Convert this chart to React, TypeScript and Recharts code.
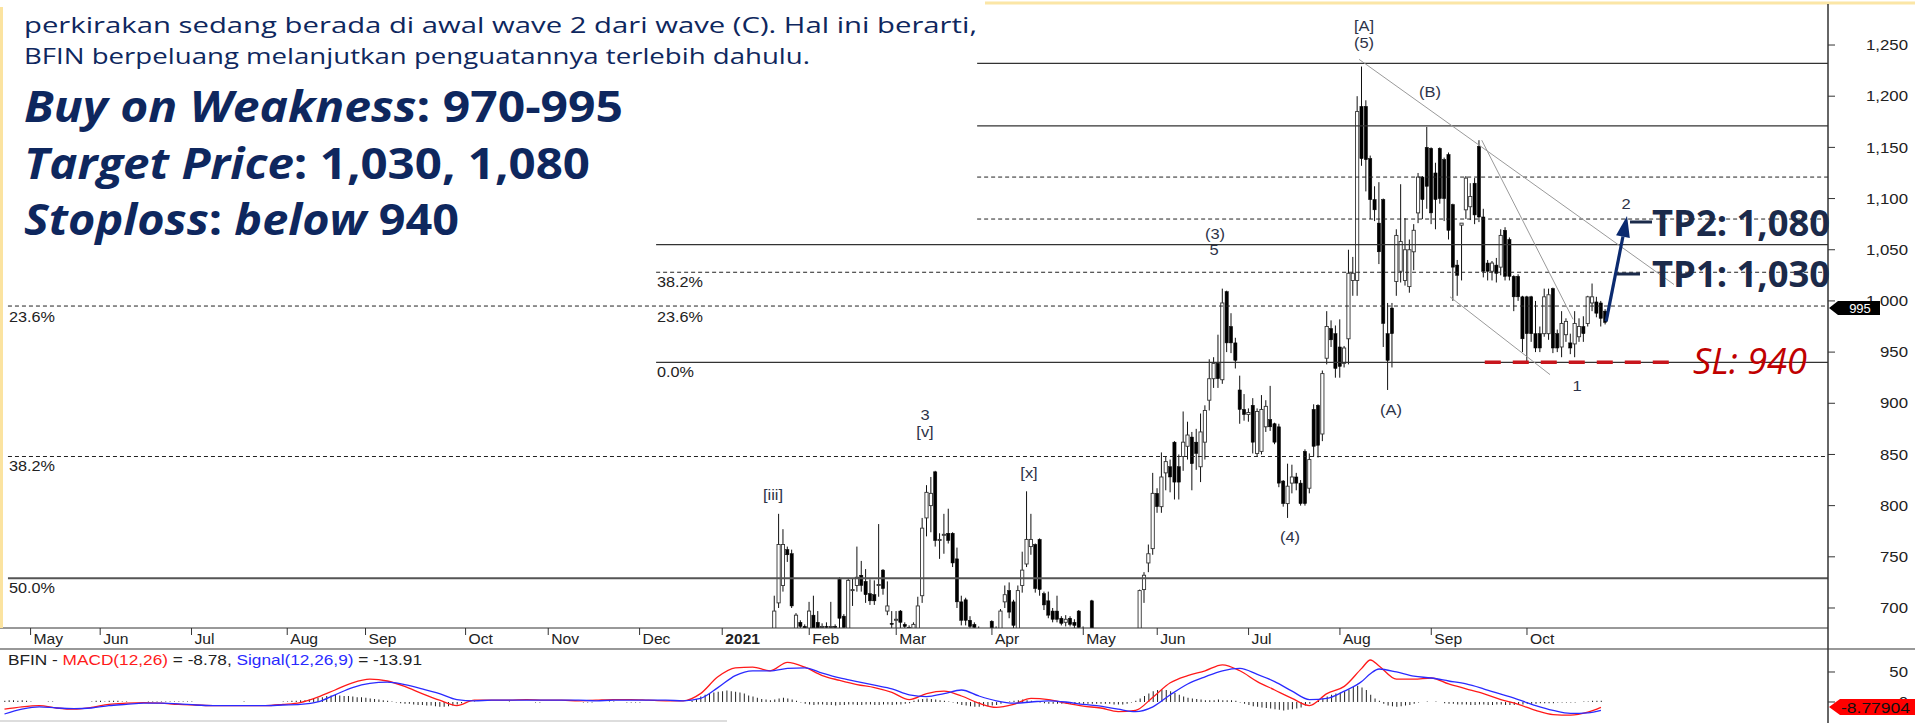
import React from 'react';
import { ComposedChart, Bar, Line, XAxis, YAxis, ReferenceLine } from 'recharts';

// x axis is a trading-day index (0 = first day of May 2020)
const X_MIN = -7.03;
const X_MAX = 413.2;
const P_MIN = 680.46;
const P_MAX = 1289.1;

const monthTicks = [0, 16, 37, 59, 77, 100, 119, 140, 159, 179, 199, 221, 242, 259, 280, 301, 322, 344];
const monthLabels = ['May', 'Jun', 'Jul', 'Aug', 'Sep', 'Oct', 'Nov', 'Dec', '2021', 'Feb', 'Mar', 'Apr', 'May', 'Jun', 'Jul', 'Aug', 'Sep', 'Oct'];
const priceTicks = [700, 750, 800, 850, 900, 950, 1000, 1050, 1100, 1150, 1200, 1250];

// daily candles from index 168 (late Jan 2021) to 362 (late Oct 2021)
const CANDLE_START = 168;
const opens = [
  670, 668, 670, 672, 705, 722, 757, 753, 676, 686, 682, 676, 693, 686, 681, 682, 681, 682, 728, 692,
  679, 717, 722, 732, 726, 714, 713, 722, 737, 697, 685, 688, 697, 684, 681, 676, 680, 712, 788, 800,
  833, 766, 771, 773, 773, 748, 706, 708, 688, 684, 680, 676, 672, 687, 680, 676, 706, 717, 706, 680,
  722, 743, 760, 762, 767, 714, 707, 697, 697, 690, 686, 690, 686, 697, 680, 676, 707, 678, 668, 664,
  667, 670, 666, 668, 672, 670, 674, 676, 718, 744, 758, 812, 799, 832, 838, 862, 838, 848, 858, 867,
  862, 838, 862, 903, 924, 939, 923, 1009, 975, 959, 913, 894, 889, 898, 851, 853, 877, 884, 880, 877,
  824, 802, 822, 828, 822, 853, 817, 894, 898, 870, 944, 973, 968, 955, 939, 963, 1020, 1020, 1190, 1190,
  1139, 1099, 1076, 1099, 968, 993, 1019, 1029, 1020, 1014, 1048, 1086, 1121, 1150, 1149, 1125, 1149, 1138, 1143, 1094,
  1035, 1074, 1089, 1092, 1115, 1151, 1082, 1037, 1029, 1035, 1033, 1069, 1060, 1024, 1024, 1004, 1004, 1004, 968, 968,
  968, 968, 1012, 968, 955, 967, 959, 958, 965, 975, 978, 998, 999, 998, 990,
];
const highs = [
  675, 672, 676, 712, 792, 777, 760, 757, 695, 688, 684, 706, 712, 697, 685, 686, 706, 684, 730, 694,
  729, 729, 760, 746, 738, 728, 727, 782, 738, 726, 697, 697, 698, 686, 683, 686, 711, 788, 820, 828,
  834, 773, 792, 797, 774, 759, 712, 710, 692, 686, 682, 679, 676, 688, 682, 699, 722, 725, 708, 722,
  755, 814, 792, 763, 768, 716, 716, 700, 712, 692, 693, 692, 689, 698, 682, 679, 708, 679, 672, 670,
  674, 675, 672, 676, 678, 678, 679, 718, 735, 762, 832, 817, 852, 848, 845, 863, 850, 892, 882, 872,
  875, 890, 898, 943, 945, 967, 1012, 1010, 988, 964, 927, 909, 895, 905, 895, 908, 903, 917, 881, 880,
  825, 841, 840, 832, 825, 855, 851, 899, 899, 932, 990, 981, 976, 982, 956, 1050, 1043, 1200, 1229, 1196,
  1142, 1112, 1116, 1100, 998, 998, 1070, 1114, 1081, 1060, 1075, 1125, 1122, 1170, 1150, 1135, 1150, 1140, 1145, 1095,
  1040, 1076, 1122, 1115, 1120, 1157, 1090, 1040, 1039, 1042, 1070, 1072, 1062, 1025, 1026, 1005, 1005, 1005, 1000, 975,
  1012, 1012, 1013, 972, 990, 983, 968, 990, 983, 985, 1005, 1017, 1004, 1000, 992,
];
const lows = [
  665, 662, 665, 668, 700, 716, 745, 700, 672, 675, 670, 674, 675, 676, 676, 678, 678, 677, 679, 677,
  678, 702, 716, 716, 705, 703, 703, 711, 713, 693, 679, 678, 679, 676, 672, 674, 678, 705, 770, 774,
  760, 748, 753, 763, 740, 700, 683, 683, 680, 677, 672, 668, 666, 676, 672, 674, 700, 690, 680, 678,
  715, 740, 752, 715, 712, 698, 690, 686, 686, 683, 682, 682, 680, 678, 672, 668, 676, 665, 660, 658,
  662, 664, 660, 664, 666, 668, 670, 674, 705, 735, 752, 793, 793, 815, 813, 806, 806, 834, 845, 815,
  835, 823, 845, 893, 915, 915, 919, 950, 949, 934, 880, 883, 882, 851, 848, 850, 872, 873, 860, 818,
  799, 788, 812, 815, 800, 800, 812, 848, 847, 863, 938, 955, 925, 925, 935, 938, 1005, 1005, 1132, 1107,
  1080, 1078, 1036, 955, 913, 935, 1005, 1018, 1015, 1008, 1030, 1076, 1080, 1090, 1075, 1070, 1095, 1078, 1060, 1000,
  1005, 1020, 1080, 1079, 1075, 1077, 1023, 1020, 1020, 1018, 1025, 1020, 1020, 990, 1000, 950, 941, 960, 950, 950,
  965, 962, 949, 950, 945, 960, 948, 945, 960, 960, 975, 990, 984, 975, 977,
];
const closes = [
  668, 670, 672, 697, 762, 762, 752, 702, 693, 682, 676, 697, 678, 680, 682, 681, 682, 681, 690, 681,
  727, 718, 730, 722, 713, 707, 707, 723, 719, 702, 684, 689, 686, 682, 677, 684, 702, 778, 813, 812,
  766, 767, 772, 766, 744, 706, 688, 688, 682, 681, 676, 672, 670, 680, 676, 697, 713, 696, 683, 717,
  737, 767, 767, 719, 718, 703, 693, 689, 689, 685, 689, 684, 683, 681, 675, 671, 680, 668, 664, 667,
  670, 666, 668, 672, 670, 676, 676, 717, 732, 753, 812, 799, 828, 843, 828, 823, 823, 862, 869, 841,
  851, 872, 893, 924, 939, 924, 998, 959, 959, 942, 894, 889, 891, 862, 892, 894, 897, 877, 862, 822,
  802, 819, 828, 822, 802, 802, 845, 858, 859, 929, 975, 962, 934, 936, 954, 1027, 1027, 1185, 1139, 1138,
  1099, 1089, 1048, 978, 942, 968, 1064, 1058, 1050, 1050, 1069, 1121, 1099, 1112, 1086, 1099, 1100, 1100, 1069, 1033,
  1025, 1076, 1120, 1102, 1084, 1082, 1029, 1029, 1037, 1027, 1064, 1024, 1024, 1004, 1004, 963, 968, 968, 954, 954,
  1004, 1006, 954, 954, 978, 980, 954, 978, 975, 968, 1004, 1004, 988, 983, 979,
];

// MACD(12,26) and signal, read every few trading days
const macdIdx = [
  -6, -2, 2, 6, 10, 14, 18, 22, 26, 30, 34, 38, 42, 46, 50, 54, 58, 62, 66, 70,
  74, 78, 82, 86, 90, 94, 98, 102, 106, 110, 114, 118, 122, 126, 130, 134, 138, 142, 146, 150,
  154, 158, 162, 166, 170, 174, 178, 182, 186, 190, 194, 198, 202, 206, 210, 214, 218, 222, 226, 230,
  234, 238, 242, 246, 250, 254, 258, 262, 266, 270, 274, 278, 282, 286, 290, 294, 298, 302, 306, 308,
  310, 314, 318, 322, 326, 330, 334, 338, 342, 346, 350, 354, 358, 361,
];
const macdVals = [
  -12, -8, -6, -10, -12, -9, -4, -2, -1, -2, -4, -5, -6, -6, -6, -6, -4, -1, 8, 20,
  32, 38, 35, 26, 14, 3, -6, 3, 3, 3, 4, 3, 3, 2, 3, 4, 4, 3, 2, 2,
  14, 42, 57, 58, 52, 66, 58, 44, 36, 29, 24, 16, 4, 14, 18, 10, -2, -9, -4, 6,
  4, -2, -7, -10, -16, -14, 8, 32, 44, 52, 62, 52, 34, 20, 6, -6, 14, 26, 56, 70,
  60, 38, 38, 40, 30, 22, 14, 4, -4, -14, -21, -22, -17, -9,
];
const signalVals = [
  -20, -12, -8, -10, -11, -10, -6, -4, -2, -2, -3, -5, -6, -6, -6, -6, -5, -4, 0, 12,
  24, 31, 33, 29, 22, 14, 4, 2, 3, 3, 3, 3, 3, 3, 2, 3, 3, 3, 3, 2,
  6, 24, 44, 52, 52, 56, 57, 48, 40, 34, 28, 22, 12, 9, 14, 20, 10, 2, -2, 0,
  2, 0, -4, -7, -12, -16, -8, 12, 30, 42, 52, 56, 46, 34, 18, 4, 6, 18, 34, 47,
  55, 50, 43, 40, 35, 30, 22, 13, 4, -6, -14, -19, -18, -14,
];

// daily histogram from index -6 to 361
const HIST_START = -6;
const histVals = [
  2, 3, 3, 2, 3, 2,
  1, 0, 0, 0, 1, 1, 0, 0, 0, 0,
  0, 0, 0, 0, 1, 2, 2, 1, 2, 2,
  2, 1, 1, 0, 0, 0, 0, 1, 1, 1,
  1, 1, 1, 1, 1, 1, 1, 1, 0, 0,
  0, 0, 0, 0, 0, 0, 0, 0, 0, 1,
  0, 0, 0, 0, 0, 0, 0, 0, 1, 1,
  2, 2, 3, 3, 4, 6, 7, 8, 10, 11,
  12, 11, 10, 10, 9, 8, 8, 7, 6, 5,
  4, 3, 2, 1, -1, -2, -3, -3, -4, -5,
  -5, -6, -6, -7, -8, -8, -7, -6, -4, -2,
  0, 0, 1, 0, 0, 0, 0, 0, 0, 0,
  1, 0, 0, 0, 0, 0, -1, -1, 0, 0,
  0, 0, 0, 0, 0, 0, 0, -1, -1, -1,
  0, 0, 0, 1, 1, 0, 0, -1, -1, -1,
  -1, 0, 0, 0, 0, 0, 0, 0, 0, 0,
  0, 0, 2, 5, 9, 12, 14, 16, 17, 18,
  19, 18, 17, 16, 14, 11, 9, 7, 5, 4,
  3, 4, 6, 7, 6, 4, 2, -1, -3, -4,
  -5, -4, -4, -5, -5, -6, -5, -5, -4, -4,
  -5, -5, -4, -4, -5, -5, -4, -4, -5, -4,
  -4, -3, -2, 2, 4, 5, 6, 5, 4, 3,
  2, 1, -1, -3, -5, -6, -7, -8, -8, -7,
  -7, -6, -5, -3, -1, 1, 2, 3, 4, 3,
  2, 1, -1, -2, -3, -3, -3, -3, -3, -3,
  -3, -3, -3, -3, -3, -3, -3, -3, -3, -4,
  -4, -4, -3, -1, 2, 6, 10, 14, 18, 20,
  21, 20, 18, 15, 12, 9, 7, 6, 5, 4,
  3, 3, 3, 4, 3, 3, 3, 2, -1, -3,
  -5, -7, -8, -9, -10, -11, -12, -13, -14, -13,
  -12, -11, -9, -6, -3, 0, 3, 6, 9, 12,
  14, 16, 18, 21, 25, 27, 24, 20, 12, 6,
  2, -3, -6, -7, -8, -7, -6, -5, -3, -1,
  0, 1, 0, 1, 0, -2, -3, -3, -4, -4,
  -4, -5, -5, -4, -4, -5, -5, -4, -4, -5,
  -5, -5, -4, -4, -3, -3, -3, -2, -2, -2,
  -2, -1, -1, -1, -1, -1, 0, 1, 1, 2,
  2, 2,
];

// fibonacci levels and where each one starts (index)
const solidLevels = [1232, 1171, 1055, 940, 729];
const solidFrom = [217.6, 217.6, 143.8, 143.8, -5.2];
const dashedLevels = [1121, 1080, 1028, 995, 848];
const dashedFrom = [217.6, 217.6, 143.8, -5.2, -5.2];

// trend lines [x1, p1, x2, p2]
const trendLines = [
  [305.4, 1236, 377.8, 1016],
  [333.6, 1157, 354.6, 982],
  [326.3, 1004, 349.3, 928],
];
const slLevel = 940;
const slFrom = 334.3;
const slTo = 376.9;
const arrowFrom = [362.2, 980];
const arrowTo = [367, 1083];

const candleData = opens.map((o, k) => ({
  i: CANDLE_START + k,
  o,
  h: highs[k],
  l: lows[k],
  c: closes[k],
  range: [lows[k], highs[k]],
}));

const macdData = histVals.map((h, k) => {
  const i = HIST_START + k;
  const m = macdIdx.indexOf(i);
  return { i, hist: h, macd: m >= 0 ? macdVals[m] : null, signal: m >= 0 ? signalVals[m] : null };
});

const AX_FONT = "'Liberation Sans', Arial, sans-serif";
const TXT_FONT = "'Open Sans', 'Noto Sans', sans-serif";
const NAVY = '#0e275e';

const Candle = (props: any) => {
  const { x, y, width, height, index } = props;
  const d = props.payload && props.payload.o !== undefined ? props.payload : candleData[index];
  if (!d || x == null || y == null) return null;
  const top = Math.min(y, y + height);
  const k = Math.abs(height) / (d.h - d.l || 1);
  const py = (v: number) => top + (d.h - v) * k;
  const cx = x + width / 2;
  const up = d.c >= d.o;
  const b1 = py(Math.max(d.o, d.c));
  const b2 = py(Math.min(d.o, d.c));
  return (
    <g>
      <line x1={cx} x2={cx} y1={py(d.h)} y2={py(d.l)} stroke="#111" strokeWidth={1} />
      <rect
        x={cx - 1.6}
        y={b1}
        width={3.2}
        height={Math.max(b2 - b1, 1)}
        fill={up ? '#fff' : '#000'}
        stroke={up ? '#333' : '#000'}
        strokeWidth={up ? 0.9 : 0.5}
      />
    </g>
  );
};

const Arrow = (props: any) => {
  const { x1, y1, x2, y2 } = props;
  if (x1 == null) return null;
  const a = Math.atan2(y2 - y1, x2 - x1);
  const bx = x2 - 21 * Math.cos(a);
  const by = y2 - 21 * Math.sin(a);
  const nx = -Math.sin(a) * 7;
  const ny = Math.cos(a) * 7;
  return (
    <g>
      <line x1={x1} y1={y1} x2={bx} y2={by} stroke="#0b2a6f" strokeWidth={3.2} />
      <polygon points={`${x2},${y2} ${bx + nx},${by + ny} ${bx - nx},${by - ny}`} fill="#0b2a6f" />
    </g>
  );
};

const MonthTick = (props: any) => {
  const { x, payload } = props;
  const label = monthLabels[monthTicks.indexOf(payload.value)];
  return (
    <g>
      <line x1={x} x2={x} y1={628} y2={635} stroke="#333" />
      <text
        transform={`translate(${x + 3},${639}) scale(1.08,1)`}
        dominantBaseline="central"
        fontSize={14.5}
        fontFamily={AX_FONT}
        fontWeight={label === '2021' ? 700 : 400}
        fill="#222"
      >
        {label}
      </text>
    </g>
  );
};

const RightTick = (props: any) => {
  const { y, payload } = props;
  return (
    <text
      transform={`translate(1908,${y}) scale(1.12,1)`}
      textAnchor="end"
      dominantBaseline="central"
      fontSize={15}
      fontFamily={AX_FONT}
      fill="#222"
    >
      {payload.value.toLocaleString('en-US')}
    </text>
  );
};

const fibLabels: [string, number, number][] = [
  ['23.6%', 9, 317], ['38.2%', 9, 466], ['50.0%', 9, 588],
  ['38.2%', 657, 282], ['23.6%', 657, 317], ['0.0%', 657, 372],
];
const waveLabels: [string, number, number][] = [
  ['[A]', 1364, 26], ['(5)', 1364, 43], ['(B)', 1430, 92], ['(3)', 1215, 234], ['5', 1214, 250],
  ['2', 1626, 204], ['1', 1577, 386], ['(A)', 1391, 410], ['(4)', 1290, 537],
  ['3', 925, 415], ['[v]', 925, 432], ['[iii]', 773, 495], ['[x]', 1029, 473],
];

export default function App() {
  return (
    <div style={{ position: 'absolute', left: 0, top: 0, width: 1915, height: 723, background: '#fff', overflow: 'hidden' }}>
      <div style={{ position: 'absolute', left: 0, top: 0 }}>
        <ComposedChart width={1915} height={649} data={candleData} margin={{ top: 5, right: 0, bottom: 0, left: 0 }}>
          <XAxis
            dataKey="i"
            type="number"
            domain={[X_MIN, X_MAX]}
            allowDataOverflow
            ticks={monthTicks}
            interval={0}
            height={21}
            tickLine={false}
            axisLine={{ stroke: '#333' }}
            tick={(p: any) => <MonthTick {...p} />}
          />
          <YAxis
            orientation="right"
            type="number"
            domain={[P_MIN, P_MAX]}
            allowDataOverflow
            ticks={priceTicks}
            width={87}
            tickSize={7}
            tickLine={{ stroke: '#333' }}
            axisLine={false}
            tick={(p: any) => <RightTick {...p} />}
          />
          {solidLevels.map((lv, k) => (
            <ReferenceLine
              key={'s' + k}
              segment={[{ x: solidFrom[k], y: lv }, { x: X_MAX, y: lv }]}
              stroke={lv === 729 ? '#555' : '#333'}
              strokeWidth={lv === 729 ? 2 : 1.3}
              ifOverflow="hidden"
            />
          ))}
          {dashedLevels.map((lv, k) => (
            <ReferenceLine
              key={'d' + k}
              segment={[{ x: dashedFrom[k], y: lv }, { x: X_MAX, y: lv }]}
              stroke="#222"
              strokeDasharray="4 3"
              strokeWidth={1}
              ifOverflow="hidden"
            />
          ))}
          {trendLines.map((t, k) => (
            <ReferenceLine
              key={'t' + k}
              segment={[{ x: t[0], y: t[1] }, { x: t[2], y: t[3] }]}
              stroke="#9a9a9a"
              strokeWidth={1}
              ifOverflow="hidden"
            />
          ))}
          <Bar dataKey="range" barSize={4} shape={(p: any) => <Candle {...p} />} isAnimationActive={false} />
          <ReferenceLine
            segment={[{ x: slFrom, y: slLevel }, { x: slTo, y: slLevel }]}
            stroke="#c8161d"
            strokeWidth={3.5}
            strokeDasharray="16 12"
            ifOverflow="hidden"
          />
          <ReferenceLine
            segment={[{ x: arrowFrom[0], y: arrowFrom[1] }, { x: arrowTo[0], y: arrowTo[1] }]}
            ifOverflow="hidden"
            shape={(p: any) => <Arrow {...p} />}
          />
        </ComposedChart>
      </div>
      <div style={{ position: 'absolute', left: 0, top: 649 }}>
        <ComposedChart width={1915} height={74} data={macdData} margin={{ top: 0, right: 0, bottom: 0, left: 0 }}>
          <XAxis dataKey="i" type="number" domain={[X_MIN, X_MAX]} allowDataOverflow hide />
          <YAxis
            orientation="right"
            type="number"
            domain={[-35, 88.3]}
            allowDataOverflow
            ticks={[0, 50]}
            width={87}
            tickSize={7}
            tickLine={{ stroke: '#333' }}
            axisLine={false}
            tick={(p: any) => <RightTick {...p} />}
          />
          <Bar dataKey="hist" barSize={1} fill="#222" isAnimationActive={false} />
          <Line dataKey="macd" type="monotone" stroke="#ff1a1a" strokeWidth={1.3} dot={false} connectNulls isAnimationActive={false} />
          <Line dataKey="signal" type="monotone" stroke="#2a2aff" strokeWidth={1.3} dot={false} connectNulls isAnimationActive={false} />
        </ComposedChart>
      </div>
      <svg width={1915} height={723} style={{ position: 'absolute', left: 0, top: 0, pointerEvents: 'none' }}>
        <rect x={985} y={1.5} width={930} height={3} fill="#fbe6a6" />
        <rect x={0} y={7} width={3} height={621} fill="#fbe3a0" />
        <line x1={1828} x2={1828} y1={4} y2={723} stroke="#333" strokeWidth={1.5} />
        <line x1={0} x2={1915} y1={649} y2={649} stroke="#333" strokeWidth={1.2} />
        <line x1={0} x2={727} y1={721} y2={721} stroke="#ddd" strokeWidth={2} />

        {fibLabels.map(([t, x, y], k) => (
          <text key={'f' + k} transform={`translate(${x},${y}) scale(1.12,1)`} dominantBaseline="central" fontSize={14.5} fontFamily={AX_FONT} fill="#222">
            {t}
          </text>
        ))}
        {waveLabels.map(([t, x, y], k) => (
          <text key={'w' + k} transform={`translate(${x},${y}) scale(1.1,1)`} textAnchor="middle" dominantBaseline="central" fontSize={15} fontFamily={AX_FONT} fill="#2d3348">
            {t}
          </text>
        ))}

        <line x1={1630} x2={1652} y1={222} y2={222} stroke="#1b2a4a" strokeWidth={3} />
        <line x1={1617} x2={1640} y1={274} y2={274} stroke="#1b2a4a" strokeWidth={3} />
        <text x={1652} y={236} fontSize={35} fontWeight={700} fontFamily={TXT_FONT} fill="#1b2a4a" textLength={178} lengthAdjust="spacingAndGlyphs">
          TP2: 1,080
        </text>
        <text x={1652} y={287} fontSize={35} fontWeight={700} fontFamily={TXT_FONT} fill="#1b2a4a" textLength={178} lengthAdjust="spacingAndGlyphs">
          TP1: 1,030
        </text>
        <text x={1693} y={374} fontSize={36} fontStyle="italic" fontFamily={TXT_FONT} fill="#c00000" textLength={114} lengthAdjust="spacingAndGlyphs">
          SL: 940
        </text>

        <polygon points="1829,308 1838,301 1880,301 1880,315 1838,315" fill="#000" />
        <text x={1860} y={308.5} textAnchor="middle" dominantBaseline="central" fontSize={13} fontFamily={AX_FONT} fill="#fff">
          995
        </text>
        <polygon points="1829,707 1840,699 1915,699 1915,715 1840,715" fill="#ff0000" />
        <text x={1841} y={707.5} dominantBaseline="central" fontSize={15} fontFamily={AX_FONT} fill="#111" textLength={69} lengthAdjust="spacingAndGlyphs">
          -8.77904
        </text>

        <text x={8} y={660} dominantBaseline="central" fontSize={14.5} fontFamily={AX_FONT} fill="#222" textLength={414} lengthAdjust="spacingAndGlyphs">
          BFIN - <tspan fill="#ff1a1a">MACD(12,26)</tspan> = -8.78, <tspan fill="#2a2aff">Signal(12,26,9)</tspan> = -13.91
        </text>

        <text x={24} y={33} fontSize={22.5} fontFamily={TXT_FONT} fill={NAVY} textLength={953} lengthAdjust="spacingAndGlyphs">
          perkirakan sedang berada di awal wave 2 dari wave (C). Hal ini berarti,
        </text>
        <text x={24} y={64} fontSize={22.5} fontFamily={TXT_FONT} fill={NAVY} textLength={786} lengthAdjust="spacingAndGlyphs">
          BFIN berpeluang melanjutkan penguatannya terlebih dahulu.
        </text>
        <text x={24} y={122} fontSize={43.5} fontWeight={700} fontFamily={TXT_FONT} fill={NAVY} textLength={599} lengthAdjust="spacingAndGlyphs">
          <tspan fontStyle="italic">Buy on Weakness</tspan>: 970-995
        </text>
        <text x={24} y={179} fontSize={43.5} fontWeight={700} fontFamily={TXT_FONT} fill={NAVY} textLength={566} lengthAdjust="spacingAndGlyphs">
          <tspan fontStyle="italic">Target Price</tspan>: 1,030, 1,080
        </text>
        <text x={24} y={235} fontSize={43.5} fontWeight={700} fontFamily={TXT_FONT} fill={NAVY} textLength={435} lengthAdjust="spacingAndGlyphs">
          <tspan fontStyle="italic">Stoploss</tspan>: <tspan fontStyle="italic">below</tspan> 940
        </text>
      </svg>
    </div>
  );
}
